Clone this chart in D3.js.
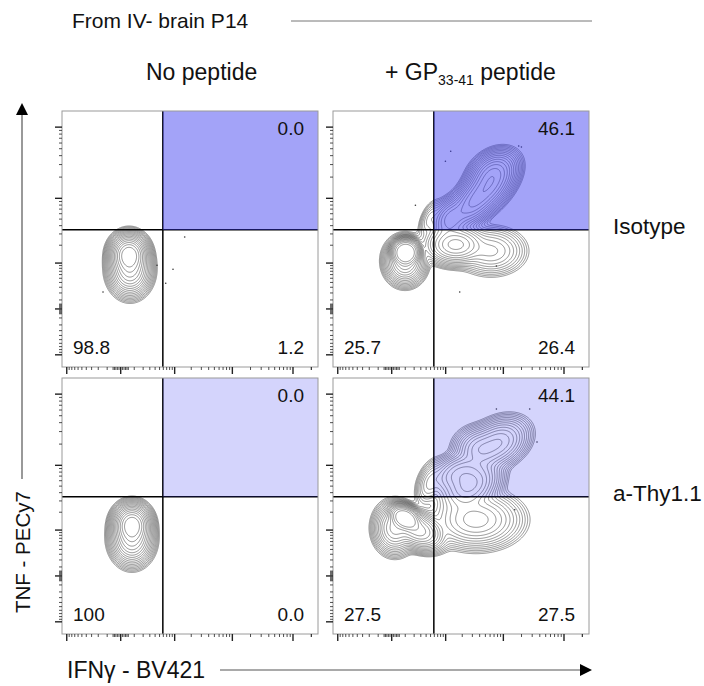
<!DOCTYPE html>
<html>
<head>
<meta charset="utf-8">
<script src="https://cdn.jsdelivr.net/npm/d3@7"></script>
<style>
  body { margin: 0; background: #fff; }
  text { font-family: "Liberation Sans", Arial, sans-serif; fill: #111; }
</style>
</head>
<body>
<script>
// ---- data ----
var title = "From IV- brain P14";
var colHeaders = [["No peptide", "", ""], ["+ GP", "33-41", " peptide"]];
var rowNames = ["Isotype", "a-Thy1.1"];
var xLabel = "IFN\u03b3 - BV421",
    yLabel = "TNF - PECy7";

// quadrant percentages per panel: [TNF+IFNg+, TNF-IFNg-, TNF-IFNg+]
var pctIsoNoPep = ["0.0", "98.8", "1.2"],
    pctIsoGP    = ["46.1", "25.7", "26.4"],
    pctThyNoPep = ["0.0", "100", "0.0"],
    pctThyGP    = ["44.1", "27.5", "27.5"];

// quadrant gates (fluorescence units)
var gateIFNg = 600, gateTNF = 3400;

// populations: [IFNg center, TNF center, spread IFNg (decades), spread TNF (decades), weight, tilt, flatness]
var popsIsoNoPep = [[59, 1357, 0.11, 0.105, 1, 0, 1], [67, 759, 0.125, 0.135, 0.35, 0, 1]];
var popsIsoGP = [
  [109, 1523, 0.14, 0.11, 1, 0, 1.6],
  [103, 1068, 0.12, 0.118, 0.3, 0, 1],
  [1562, 2010, 0.19, 0.105, 0.22, 0, 1],
  [1284, 4938, 0.13, 0.12, 0.1, 0.3, 1],
  [3140, 8433, 0.16, 0.14, 0.16, 0.5, 1],
  [5645, 14268, 0.17, 0.15, 0.22, 0.5, 1],
  [6852, 22485, 0.15, 0.12, 0.15, 0.3, 1],
  [6339, 1583, 0.22, 0.13, 0.035, 0, 1],
  [499, 4938, 0.08, 0.11, 0.01, 0.5, 1]
];
var popsThyNoPep = [[84, 1205, 0.11, 0.105, 1, 0, 1], [84, 693, 0.125, 0.135, 0.35, 0, 1]];
var popsThyGP = [
  [103, 1583, 0.14, 0.1, 1, -0.3, 1.4],
  [263, 983, 0.16, 0.105, 0.35, -0.3, 1],
  [23, 1068, 0.125, 0.13, 0.2, 0, 1],
  [2754, 5160, 0.19, 0.15, 0.2, 0.3, 1],
  [8302, 20400, 0.19, 0.135, 0.11, 0.3, 1],
  [4088, 16410, 0.16, 0.12, 0.08, 0, 1],
  [1717, 7635, 0.19, 0.12, 0.1, 0.4, 1],
  [3534, 1483, 0.28, 0.15, 0.09, 0, 1],
  [499, 5466, 0.095, 0.13, 0.02, 0.4, 1]
];

// single events outside the contours: [IFNg, TNF]
var dotsIsoNoPep = [[1562, 2645], [951, 749], [452, 892], [686, 370], [-137, 208]];
var dotsIsoGP = [[18320, 53700], [20300, 52000], [1268, 45300], [1011, 32800], [224, 7815], [1842, 208], [7810, 866]];
var dotsThyNoPep = [];
var dotsThyGP = [[7810, 61100], [27800, 61100], [36700, 21100], [15730, 2155]];

// axis ticks
var majorTicks = [-1000, 0, 1000, 10000, 100000];
var minorMult = [2, 3, 4, 5, 6, 7, 8, 9];
var nearZeroTicks = [10, 20, 30, 40, 50, 100, 200, 300, 400, 500, 600, 700, 800, 900];

// ---- layout ----
var W = 704, H = 686, S = 256;
var colX = [62, 333], rowY = [111, 378];

var svg = d3.select("body").append("svg")
    .attr("width", W)
    .attr("height", H);

// biexponential-like axes
var x = d3.scaleSymlog().constant(150).domain([-1200, 262144]).range([0, S]);
var y = d3.scaleSymlog().constant(300).domain([-1650, 165000]).range([S, 0]);
var decX = x(1e5) - x(1e4),
    decY = y(1e4) - y(1e5);

var minorTicks = nearZeroTicks.concat(nearZeroTicks.map(function(v){ return -v; }));
[1000, 10000, 100000].forEach(function(d){
    minorMult.forEach(function(m){ minorTicks.push(d * m); });
});

var panels = [
    {col: 0, row: 0, pops: popsIsoNoPep, dots: dotsIsoNoPep, pct: pctIsoNoPep, alpha: 0.47},
    {col: 1, row: 0, pops: popsIsoGP, dots: dotsIsoGP, pct: pctIsoGP, alpha: 0.47},
    {col: 0, row: 1, pops: popsThyNoPep, dots: dotsThyNoPep, pct: pctThyNoPep, alpha: 0.22},
    {col: 1, row: 1, pops: popsThyGP, dots: dotsThyGP, pct: pctThyGP, alpha: 0.22}
];

var levels = d3.range(0, 17).map(function(k){ return Math.pow(10, -3.3 + 0.19 * k); });
var path = d3.geoPath();

function densityGrid(pops){
    var comps = pops.map(function(p){
        return {cx: x(p[0]), cy: y(p[1]), sx: p[2] * decX, sy: p[3] * decY,
                w: p[4], r: p[5], f: p[6]};
    });
    var vals = new Float64Array(S * S), max = 0;
    for (var j = 0; j < S; j++){
        for (var i = 0; i < S; i++){
            var gx = i + 0.5, gy = j + 0.5, s = 0;
            comps.forEach(function(c){
                var dx = (gx - c.cx) / c.sx, dy = (c.cy - gy) / c.sy;
                var q = (dx * dx - 2 * c.r * dx * dy + dy * dy) / (1 - c.r * c.r);
                s += c.w * Math.exp(-0.5 * Math.pow(q, c.f));
            });
            vals[j * S + i] = s;
            if (s > max) max = s;
        }
    }
    for (var k = 0; k < vals.length; k++) vals[k] /= max;
    return vals;
}

panels.forEach(function(p, idx){
    var g = svg.append("g")
        .attr("transform", "translate(" + colX[p.col] + "," + rowY[p.row] + ")");

    g.append("clipPath").attr("id", "clip" + idx)
        .append("rect").attr("width", S).attr("height", S);

    var inner = g.append("g").attr("clip-path", "url(#clip" + idx + ")");

    // contours
    var vals = densityGrid(p.pops);
    var cont = d3.contours().size([S, S]).thresholds(levels)(vals);
    inner.selectAll(".contour")
        .data(cont)
        .enter()
        .append("path")
        .attr("class", "contour")
        .attr("d", path)
        .attr("fill", "none")
        .attr("stroke", "#2e2e2e")
        .attr("stroke-opacity", 0.85)
        .attr("stroke-width", 0.6);

    // stray events
    inner.selectAll(".dot")
        .data(p.dots)
        .enter()
        .append("circle")
        .attr("class", "dot")
        .attr("cx", function(d){ return x(d[0]); })
        .attr("cy", function(d){ return y(d[1]); })
        .attr("r", 0.8)
        .attr("fill", "#333");

    // quadrant lines
    inner.append("line")
        .attr("x1", x(gateIFNg)).attr("x2", x(gateIFNg))
        .attr("y1", 0).attr("y2", S)
        .attr("stroke", "#000").attr("stroke-width", 1.5);
    inner.append("line")
        .attr("x1", 0).attr("x2", S)
        .attr("y1", y(gateTNF)).attr("y2", y(gateTNF))
        .attr("stroke", "#000").attr("stroke-width", 1.5);

    // TNF+ IFNg+ gate highlight
    inner.append("rect")
        .attr("x", x(gateIFNg))
        .attr("y", 0)
        .attr("width", S - x(gateIFNg))
        .attr("height", y(gateTNF))
        .attr("fill", "rgb(59,59,240)")
        .attr("fill-opacity", p.alpha);

    // frame
    g.append("rect")
        .attr("width", S).attr("height", S)
        .attr("fill", "none")
        .attr("stroke", "#9a9a9a")
        .attr("stroke-width", 1);

    // axes ticks
    var xMinor = minorTicks.concat([200000]).filter(function(v){ return v >= x.domain()[0] && v <= x.domain()[1]; });
    var yMinor = minorTicks.filter(function(v){ return v >= y.domain()[0] && v <= y.domain()[1]; });

    g.append("g").attr("class", "ax")
        .attr("transform", "translate(0," + S + ")")
        .call(d3.axisBottom(x).tickValues(xMinor).tickSize(3).tickFormat(""));
    g.append("g").attr("class", "ax major")
        .attr("transform", "translate(0," + S + ")")
        .call(d3.axisBottom(x).tickValues(majorTicks).tickSize(7).tickFormat(""));
    g.append("g").attr("class", "ax")
        .call(d3.axisLeft(y).tickValues(yMinor).tickSize(3).tickFormat(""));
    g.append("g").attr("class", "ax major")
        .call(d3.axisLeft(y).tickValues(majorTicks).tickSize(7).tickFormat(""));

    // percentages
    g.append("text").attr("x", S - 14).attr("y", 24)
        .attr("text-anchor", "end").attr("font-size", 19).text(p.pct[0]);
    g.append("text").attr("x", 11).attr("y", S - 13)
        .attr("font-size", 19).text(p.pct[1]);
    g.append("text").attr("x", S - 14).attr("y", S - 13)
        .attr("text-anchor", "end").attr("font-size", 19).text(p.pct[2]);
});

svg.selectAll(".ax .domain").remove();
svg.selectAll(".ax line").attr("stroke", "#222").attr("stroke-width", 0.8);
svg.selectAll(".ax.major line").attr("stroke-width", 1.4);

// title with rule
svg.append("text").attr("x", 72).attr("y", 28).attr("font-size", 21).text(title);
svg.append("line").attr("x1", 291).attr("x2", 592).attr("y1", 21).attr("y2", 21)
    .attr("stroke", "#777").attr("stroke-width", 1);

// column headers
var headX = [146, 385];
colHeaders.forEach(function(h, i){
    var t = svg.append("text").attr("x", headX[i]).attr("y", 80).attr("font-size", 23);
    t.append("tspan").text(h[0]);
    if (h[1]) {
        t.append("tspan").attr("font-size", 14).attr("dy", 5).text(h[1]);
        t.append("tspan").attr("dy", -5).text(h[2]);
    }
});

// row labels
rowNames.forEach(function(r, i){
    svg.append("text")
        .attr("x", 613)
        .attr("y", rowY[i] + y(gateTNF) + 4)
        .attr("font-size", 22.5)
        .text(r);
});

// axis arrows
var arrowCol = "#555";
svg.append("line").attr("x1", 220).attr("x2", 582).attr("y1", 670).attr("y2", 670)
    .attr("stroke", arrowCol).attr("stroke-width", 1.2);
svg.append("path").attr("d", "M580,664 L592,670 L580,676 Z").attr("fill", "#000");
svg.append("text").attr("x", 67).attr("y", 678).attr("font-size", 23).text(xLabel);

svg.append("line").attr("x1", 22).attr("x2", 22).attr("y1", 479).attr("y2", 113)
    .attr("stroke", arrowCol).attr("stroke-width", 1.2);
svg.append("path").attr("d", "M16,115 L22,103 L28,115 Z").attr("fill", "#000");
svg.append("text")
    .attr("transform", "translate(30,613) rotate(-90)")
    .attr("font-size", 20.5)
    .text(yLabel);
</script>
</body>
</html>
